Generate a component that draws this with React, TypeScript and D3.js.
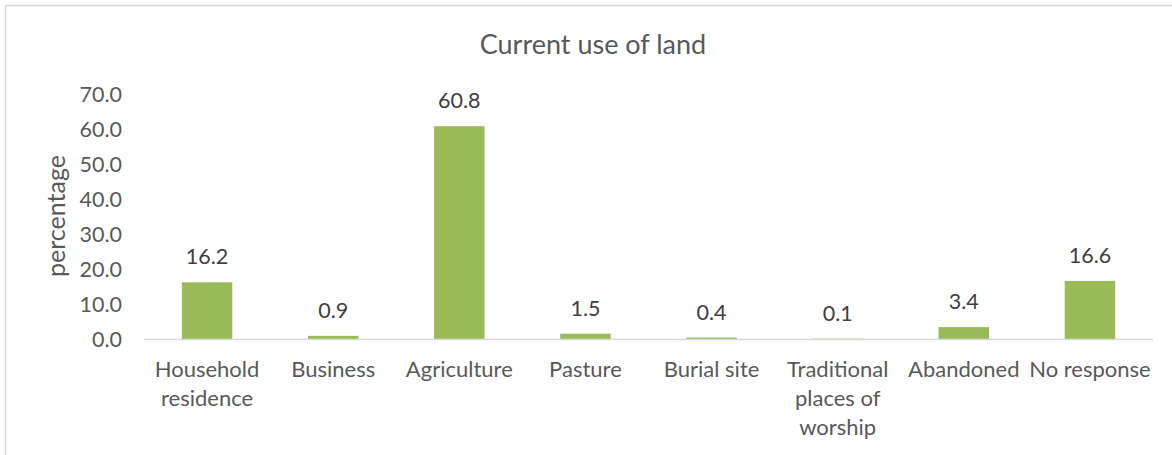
import React from "react";
import * as d3 from "d3";

const categories: string[][] = [
  ["Household", "residence"],
  ["Business"],
  ["Agriculture"],
  ["Pasture"],
  ["Burial site"],
  ["Traditional", "places of", "worship"],
  ["Abandoned"],
  ["No response"],
];
const values: number[] = [16.2, 0.9, 60.8, 1.5, 0.4, 0.1, 3.4, 16.6];
const yTicks: number[] = [0, 10, 20, 30, 40, 50, 60, 70];
const title = "Current use of land";
const yTitle = "percentage";

const W = 1172;
const H = 455;
const FONT = "Lato, 'Open Sans', sans-serif";

export default function App() {
  const plot = { left: 144, right: 1153, top: 94, bottom: 339 };
  const keys = categories.map((c) => c.join(" "));
  const x = d3
    .scaleBand<string>()
    .domain(keys)
    .range([plot.left, plot.right])
    .paddingInner(0.6)
    .paddingOuter(0.3);
  const y = d3.scaleLinear().domain([0, 70]).range([plot.bottom, plot.top]);
  const fmt = d3.format(".1f");

  return (
    <div style={{ position: "fixed", left: 0, top: 0 }}>
      <svg width={W} height={H} style={{ display: "block", background: "#fff" }}>
        <rect x={5.5} y={5.5} width={1300} height={600} fill="#fff" stroke="#d9d9d9" strokeWidth={1.5} />
        <text x={593} y={54} textAnchor="middle" fontFamily={FONT} fontSize={27} fill="#595959">
          {title}
        </text>
        <text
          transform={`translate(65,216) rotate(-90)`}
          textAnchor="middle"
          fontFamily={FONT}
          fontSize={25}
          fill="#595959"
        >
          {yTitle}
        </text>
        {yTicks.map((t) => (
          <text
            key={t}
            x={122}
            y={y(t) + 8}
            textAnchor="end"
            fontFamily={FONT}
            fontSize={21.5}
            fill="#595959"
          >
            {fmt(t)}
          </text>
        ))}
        {values.map((v, i) => {
          const k = keys[i];
          const bx = x(k)!;
          return (
            <g key={k}>
              <rect x={bx} y={y(v)} width={x.bandwidth()} height={plot.bottom - y(v)} fill="#9bbb59" />
              <text
                x={bx + x.bandwidth() / 2}
                y={y(v) - 18}
                textAnchor="middle"
                fontFamily={FONT}
                fontSize={21.5}
                fill="#404040"
              >
                {fmt(v)}
              </text>
            </g>
          );
        })}
        <line x1={plot.left} x2={plot.right} y1={plot.bottom + 0.5} y2={plot.bottom + 0.5} stroke="#d9d9d9" strokeWidth={1.5} />
        {categories.map((lines, i) => {
          const cx = x(keys[i])! + x.bandwidth() / 2;
          return (
            <text key={keys[i]} textAnchor="middle" fontFamily={FONT} fontSize={22} fill="#595959">
              {lines.map((l, j) => (
                <tspan key={j} x={cx} y={377 + j * 29}>
                  {l}
                </tspan>
              ))}
            </text>
          );
        })}
      </svg>
    </div>
  );
}
